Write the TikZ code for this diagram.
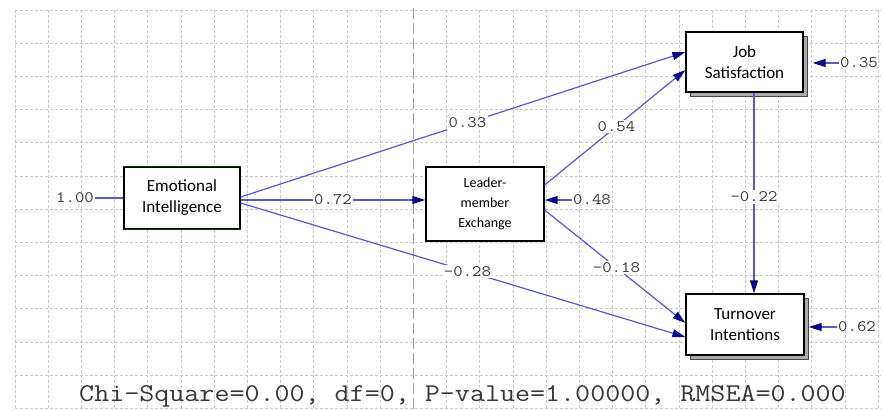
\documentclass[tikz,border=0pt]{standalone}
\usepackage{fontspec}
\setmainfont{Carlito}
\newfontfamily\monof[FakeStretch=1.14]{Latin Modern Mono}
\usetikzlibrary{arrows.meta}
\definecolor{linec}{RGB}{88,88,200}
\definecolor{arrowc}{RGB}{10,10,130}
\definecolor{gridc}{RGB}{200,200,200}
\definecolor{txtc}{RGB}{55,55,55}
\tikzset{
  gridline/.style={draw=gridc, line width=0.8pt, dash pattern=on 3pt off 2pt},
  axisline/.style={draw=gray!75, line width=1pt, dash pattern=on 11pt off 4pt},
  box/.style={draw=black, fill=white, line width=1.3pt, align=center, inner sep=0pt},
  bigfont/.style={font=\fontsize{17}{21}\selectfont},
  smallfont/.style={font=\fontsize{14}{20}\selectfont},
  shadowbox/.style={fill=gray!65, draw=gray!55!black, line width=0.4pt},
  path/.style={draw=linec, line width=1.2pt, -{Triangle[length=13pt,width=8pt,color=arrowc]}},
  plainpath/.style={draw=linec, line width=1.2pt},
  lab/.style={fill=white, inner sep=1.5pt, text=txtc, font=\monof\fontsize{16}{16}\selectfont},
  rlab/.style={inner sep=1pt, text=txtc, font=\monof\fontsize{16}{16}\selectfont},
}
\begin{document}
\begin{tikzpicture}[x=1pt,y=-1pt]
\useasboundingbox (0,0) rectangle (885,411);
\fill[white] (0,0) rectangle (885,411);
% grid
\foreach \i in {0,...,26} {
  \ifnum\i=12\relax\else
  \draw[gridline] ({15+33.2*\i},10) -- ({15+33.2*\i},408);
  \fi
}
\foreach \j in {0,...,12} {
  \draw[gridline] (15,{10+33.2*\j}) -- (881,{10+33.2*\j});
}
\draw[axisline] (413,8) -- (413,411);
% shadows
\fill[shadowbox] (690,36) rectangle (807.5,96);
\fill[shadowbox] (690,298) rectangle (808,359.5);
% boxes
\node[box, bigfont, minimum width=116pt, minimum height=62pt] (EI) at (182,198) {Emotional\\Intelligence};
\draw[green!22!black, line width=1.4pt] (EI.north west) -- (EI.north east);
\draw[green!22!black, line width=1.4pt] (EI.south west) -- (EI.south east);
\node[box, smallfont, minimum width=118pt, minimum height=74pt] (LMX) at (485,204) {Leader-\\member\\Exchange};
\node[box, bigfont, minimum width=117pt, minimum height=60pt] (JS) at (744.5,62) {Job\\Satisfaction};
\node[box, bigfont, minimum width=118pt, minimum height=61pt] (TI) at (745,324.5) {Turnover\\Intentions};
% structural paths
\draw[path] ([yshift=1pt]EI.east) -- node[lab, pos=0.51] {0.33} ([yshift=10pt]JS.west);
\draw[path] ([yshift=-2pt]EI.east) -- node[lab, pos=0.5] {0.72} ([yshift=-2pt]EI.east -| LMX.west);
\draw[path] ([yshift=-5pt]EI.east) -- node[lab, pos=0.51] {-0.28} ([yshift=-12.5pt]TI.west);
\draw[path] ([yshift=19pt]LMX.east) -- node[lab, pos=0.51] {0.54} ([yshift=-8pt]JS.west);
\draw[path] ([yshift=-6pt]LMX.east) -- node[lab, pos=0.51] {-0.18} ([yshift=1.5pt]TI.west);
\draw[path] ([xshift=9.5pt]JS.south) -- node[lab, pos=0.52] {-0.22} ([xshift=9.5pt]JS.south |- TI.north);
% residuals
\node[rlab] (r100) at (75,198) {1.00};
\draw[plainpath] (r100.east) -- (r100.east -| EI.west);
\node[rlab] (r48) at (592,200) {0.48};
\draw[path] (r48.west) -- (r48.west -| LMX.east);
\node[rlab] (r35) at (859,63) {0.35};
\draw[path, shorten >=9pt] (r35.west) -- (r35.west -| JS.east);
\node[rlab] (r62) at (857,327) {0.62};
\draw[path, shorten >=4pt] (r62.west) -- (r62.west -| TI.east);
% fit statistics
\node[anchor=base, inner sep=0pt, text=txtc, font=\monof\fontsize{25.6}{26}\selectfont] (fit) at (462.5,401) {Chi-Square=0.00, df=0, P-value=1.00000, RMSEA=0.000};
\end{tikzpicture}
\end{document}
